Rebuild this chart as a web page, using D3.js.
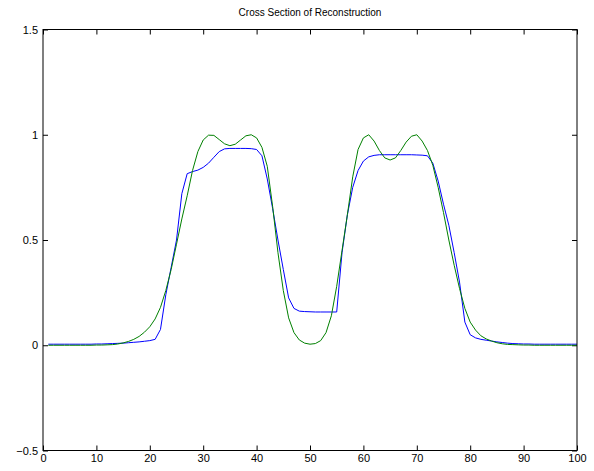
<!DOCTYPE html>
<html>
<head>
<meta charset="utf-8">
<script src="https://cdn.jsdelivr.net/npm/d3@7"></script>
<style>
  body { margin: 0; background: #fff; }
  svg { display: block; font-family: "Liberation Sans", Arial, Helvetica, sans-serif; }
</style>
</head>
<body>
<svg id="chart" width="594" height="471"></svg>
<script>
// Cross section values, sample index 1..100
const xs = d3.range(1, 101);

// reconstruction (blue)
const blueVals = [
  0.005, 0.005, 0.005, 0.005, 0.005, 0.005, 0.005, 0.005, 0.005, 0.006,
  0.006, 0.007, 0.008, 0.009, 0.010, 0.012, 0.014, 0.016, 0.019, 0.022,
  0.028, 0.075, 0.24, 0.37, 0.50, 0.72, 0.815, 0.825, 0.832, 0.845,
  0.865, 0.893, 0.92, 0.933, 0.935, 0.935, 0.935, 0.935, 0.934, 0.93,
  0.90, 0.79, 0.65, 0.50, 0.36, 0.225, 0.175, 0.162, 0.160, 0.159,
  0.158, 0.158, 0.158, 0.158, 0.158, 0.44, 0.62, 0.75, 0.83, 0.875,
  0.895, 0.902, 0.905, 0.905, 0.905, 0.905, 0.905, 0.905, 0.905, 0.904,
  0.903, 0.90, 0.865, 0.78, 0.67, 0.57, 0.44, 0.30, 0.11, 0.05,
  0.035, 0.028, 0.024, 0.020, 0.016, 0.013, 0.010, 0.008, 0.007, 0.006,
  0.006, 0.005, 0.005, 0.005, 0.005, 0.005, 0.005, 0.005, 0.005, 0.005
];

// original profile (green)
const greenVals = [
  0, 0, 0, 0, 0, 0, 0, 0, 0, 0.001,
  0.001, 0.002, 0.003, 0.006, 0.011, 0.018, 0.028, 0.042, 0.062, 0.088,
  0.125, 0.18, 0.26, 0.36, 0.48, 0.60, 0.71, 0.83, 0.92, 0.975,
  0.998, 0.997, 0.977, 0.957, 0.948, 0.955, 0.975, 0.995, 1.0, 0.985,
  0.94, 0.85, 0.66, 0.44, 0.26, 0.13, 0.06, 0.025, 0.01, 0.005,
  0.008, 0.022, 0.06, 0.14, 0.28, 0.45, 0.62, 0.80, 0.93, 0.985,
  1.0, 0.97, 0.925, 0.89, 0.88, 0.89, 0.925, 0.965, 0.993, 1.0,
  0.97, 0.925, 0.855, 0.75, 0.63, 0.50, 0.38, 0.27, 0.175, 0.11,
  0.072, 0.045, 0.03, 0.02, 0.012, 0.007, 0.004, 0.003, 0.002, 0.001,
  0.001, 0, 0, 0, 0, 0, 0, 0, 0, 0
];

const xTicks = d3.range(0, 101, 10);
const yTicks = [-0.5, 0, 0.5, 1, 1.5];
const title = 'Cross Section of Reconstruction';

const plotLeft = 43, plotRight = 577, plotTop = 29.5, plotBottom = 450.5;

const svg = d3.select('#chart');

const x = d3.scaleLinear().domain([0, 100]).range([plotLeft, plotRight]);
const y = d3.scaleLinear().domain([-0.5, 1.5]).range([plotBottom, plotTop]);

// Axes (ticks pointing inward, MATLAB style)
const tickLen = 5;
svg.append('g')
  .attr('transform', `translate(0,${plotBottom})`)
  .call(d3.axisBottom(x).tickValues(xTicks).tickSizeInner(-tickLen).tickSizeOuter(0).tickPadding(4))
  .call(g => g.select('.domain').remove());
svg.append('g')
  .attr('transform', `translate(0,${plotTop})`)
  .call(d3.axisTop(x).tickValues(xTicks).tickSizeInner(-tickLen).tickSizeOuter(0).tickFormat(''))
  .call(g => g.select('.domain').remove());
svg.append('g')
  .attr('transform', `translate(${plotLeft},0)`)
  .call(d3.axisLeft(y).tickValues(yTicks).tickSizeInner(-tickLen).tickSizeOuter(0).tickPadding(5)
    .tickFormat(d => d3.format('')(d).replace('-', '\u2212')))
  .call(g => g.select('.domain').remove());
svg.append('g')
  .attr('transform', `translate(${plotRight},0)`)
  .call(d3.axisRight(y).tickValues(yTicks).tickSizeInner(-tickLen).tickSizeOuter(0).tickFormat(''))
  .call(g => g.select('.domain').remove());

svg.selectAll('.tick text')
  .attr('font-size', 11)
  .attr('font-family', '"Liberation Sans", Arial, sans-serif')
  .attr('fill', '#000');
svg.selectAll('.tick line').attr('stroke', '#000');

// Curves
const line = d3.line()
  .x((d, i) => x(xs[i]))
  .y(d => y(d));

svg.append('path')
  .datum(blueVals)
  .attr('d', line)
  .attr('fill', 'none')
  .attr('stroke', '#0000ff')
  .attr('stroke-width', 1);

svg.append('path')
  .datum(greenVals)
  .attr('d', line)
  .attr('fill', 'none')
  .attr('stroke', '#008000')
  .attr('stroke-width', 1);

// Box
svg.append('rect')
  .attr('x', plotLeft)
  .attr('y', plotTop)
  .attr('width', plotRight - plotLeft)
  .attr('height', plotBottom - plotTop)
  .attr('fill', 'none')
  .attr('stroke', '#000')
  .attr('stroke-width', 1);

// Title
svg.append('text')
  .attr('x', (plotLeft + plotRight) / 2)
  .attr('y', 16)
  .attr('text-anchor', 'middle')
  .attr('font-size', 10)
  .attr('fill', '#000')
  .text(title);
</script>
</body>
</html>
